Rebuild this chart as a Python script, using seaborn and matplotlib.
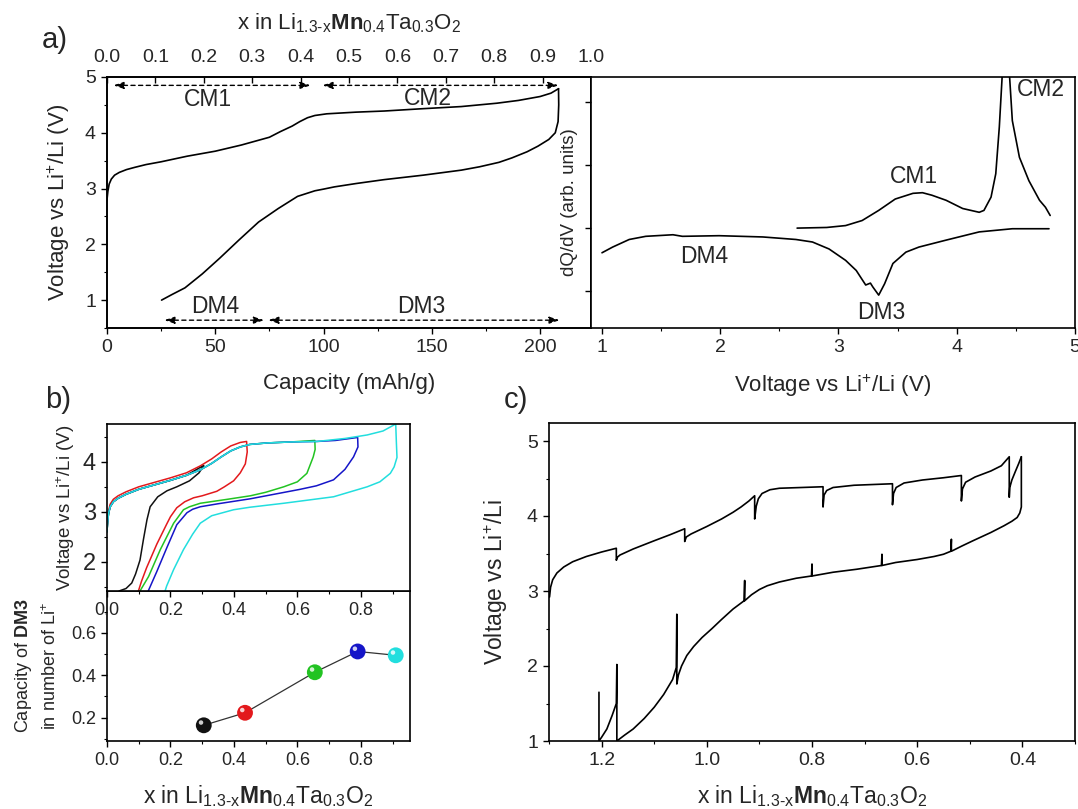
import numpy as np
import matplotlib
matplotlib.use("Agg")
import matplotlib.pyplot as plt
import seaborn as sns
from matplotlib.ticker import MultipleLocator, FormatStrFormatter, NullFormatter
from matplotlib.path import Path
from matplotlib.markers import MarkerStyle

# ---------------- data ----------------
# a) first cycle, capacity vs voltage
cap_charge = [0, 0.4, 1, 2, 3.5, 5.7, 9, 12.8, 18, 25, 37, 50, 62, 75, 80, 85.5, 89, 92.6, 96,
              101.5, 115, 128, 145, 163.6, 180, 190, 200, 205, 208.5]
v_charge = [2.8, 2.95, 3.08, 3.17, 3.24, 3.29, 3.34, 3.38, 3.43, 3.48, 3.58, 3.67, 3.78, 3.92,
            4.02, 4.12, 4.2, 4.27, 4.31, 4.34, 4.37, 4.39, 4.43, 4.47, 4.53, 4.58, 4.65, 4.71, 4.79]
cap_dis = [208.5, 208.6, 208.3, 207, 204, 199, 194, 187, 181, 172, 163.6, 146, 128, 115, 105,
           100, 96, 88, 79, 70, 61, 52, 44, 36, 30, 25.2]
v_dis = [4.79, 4.5, 4.2, 4.0, 3.88, 3.76, 3.66, 3.55, 3.47, 3.39, 3.33, 3.24, 3.16, 3.09, 3.03,
         2.99, 2.96, 2.86, 2.64, 2.4, 2.08, 1.75, 1.47, 1.22, 1.1, 1.0]

# a) dQ/dV
v_dqdv_ch = [2.65, 2.9, 3.06, 3.2, 3.34, 3.48, 3.63, 3.71, 3.79, 3.91, 4.05, 4.19, 4.23, 4.29,
             4.33, 4.36, 4.39, 4.415, 4.44, 4.47, 4.53, 4.61, 4.70, 4.75, 4.79]
dqdv_ch = [0.0, 0.01, 0.04, 0.12, 0.28, 0.46, 0.55, 0.56, 0.52, 0.44, 0.31, 0.25, 0.28, 0.49,
           0.86, 1.6, 2.6, 3.5, 2.6, 1.7, 1.12, 0.75, 0.44, 0.33, 0.2]
v_dqdv_dis = [1.0, 1.09, 1.23, 1.37, 1.6, 1.68, 1.99, 2.36, 2.64, 2.78, 2.92, 3.06, 3.15, 3.23,
              3.27, 3.29, 3.34, 3.39, 3.46, 3.57, 3.68, 3.91, 4.19, 4.47, 4.78]
dqdv_dis = [-0.39, -0.3, -0.18, -0.13, -0.105, -0.13, -0.12, -0.14, -0.18, -0.22, -0.33, -0.51,
            -0.67, -0.9, -0.87, -0.93, -1.06, -0.88, -0.56, -0.38, -0.3, -0.19, -0.06, -0.01, -0.01]

# b) cycles with increasing cut-off (x in Li, voltage)
blk_x = [0, 0.002, 0.005, 0.01, 0.02, 0.035, 0.06, 0.1, 0.15, 0.2, 0.25, 0.305,
         0.29, 0.26, 0.22, 0.189, 0.16, 0.136, 0.126, 0.115, 0.104, 0.09, 0.078, 0.06, 0.038]
blk_v = [2.6, 2.8, 2.97, 3.1, 3.2, 3.27, 3.35, 3.45, 3.54, 3.63, 3.73, 3.93,
         3.78, 3.62, 3.5, 3.42, 3.3, 3.1, 2.84, 2.45, 2.03, 1.75, 1.57, 1.46, 1.41]
red_x = [0, 0.002, 0.005, 0.01, 0.02, 0.035, 0.06, 0.1, 0.15, 0.2, 0.25, 0.294, 0.33, 0.36,
         0.39, 0.42, 0.44,
         0.442, 0.436, 0.42, 0.399, 0.37, 0.346, 0.3, 0.273, 0.245, 0.22, 0.2, 0.188, 0.157, 0.14,
         0.125, 0.109, 0.099]
red_v = [2.65, 2.85, 3.02, 3.15, 3.25, 3.32, 3.4, 3.5, 3.59, 3.68, 3.78, 3.92, 4.06, 4.2,
         4.32, 4.39, 4.41,
         4.2, 3.96, 3.78, 3.62, 3.5, 3.41, 3.32, 3.28, 3.2, 3.08, 2.9, 2.75, 2.35, 2.1,
         1.88, 1.61, 1.41]
grn_x = [0, 0.002, 0.005, 0.01, 0.02, 0.035, 0.06, 0.1, 0.15, 0.2, 0.25, 0.294, 0.33, 0.36,
         0.39, 0.42, 0.45, 0.504, 0.58, 0.655,
         0.656, 0.65, 0.63, 0.6, 0.557, 0.5, 0.452, 0.38, 0.294, 0.26, 0.241, 0.21, 0.168, 0.131,
         0.104]
grn_v = [2.6, 2.8, 2.97, 3.1, 3.2, 3.27, 3.35, 3.45, 3.54, 3.63, 3.73, 3.84, 3.97, 4.1,
         4.22, 4.3, 4.35, 4.38, 4.40, 4.43,
         4.25, 4.1, 3.77, 3.6, 3.5, 3.39, 3.32, 3.25, 3.17, 3.1, 3.04, 2.77, 2.24, 1.7,
         1.41]
blu_x = [0, 0.002, 0.005, 0.01, 0.02, 0.035, 0.06, 0.1, 0.15, 0.2, 0.25, 0.294, 0.33, 0.36,
         0.39, 0.42, 0.45, 0.504, 0.58, 0.662, 0.72, 0.79,
         0.791, 0.777, 0.75, 0.714, 0.66, 0.609, 0.452, 0.35, 0.294, 0.27, 0.252, 0.22, 0.188,
         0.157, 0.13]
blu_v = [2.6, 2.8, 2.97, 3.1, 3.2, 3.27, 3.35, 3.45, 3.54, 3.63, 3.73, 3.84, 3.97, 4.1,
         4.22, 4.3, 4.35, 4.38, 4.40, 4.41, 4.43, 4.49,
         4.3, 4.1, 3.85, 3.64, 3.52, 3.45, 3.26, 3.16, 3.1, 3.05, 2.98, 2.74, 2.27,
         1.8, 1.41]
cyn_x = [0, 0.002, 0.005, 0.01, 0.02, 0.035, 0.06, 0.1, 0.15, 0.2, 0.25, 0.294, 0.33, 0.36,
         0.39, 0.42, 0.45, 0.504, 0.58, 0.662, 0.75, 0.82, 0.87, 0.91,
         0.912, 0.914, 0.905, 0.893, 0.86, 0.82, 0.714, 0.557, 0.45, 0.399, 0.33, 0.294, 0.27,
         0.241, 0.21, 0.188, 0.183]
cyn_v = [2.6, 2.8, 2.97, 3.1, 3.2, 3.27, 3.35, 3.45, 3.54, 3.63, 3.73, 3.84, 3.97, 4.1,
         4.22, 4.3, 4.35, 4.38, 4.40, 4.41, 4.47, 4.54, 4.62, 4.76,
         4.4, 4.09, 3.9, 3.77, 3.6, 3.5, 3.3, 3.17, 3.09, 3.04, 2.92, 2.77, 2.55,
         2.24, 1.84, 1.51, 1.41]
cycle_colors = ["#111111", "#e3191c", "#22c322", "#1515c8", "#22dede"]

# b) DM3 capacity vs cut-off
cut_x = [0.305, 0.435, 0.655, 0.79, 0.91]
dm3_cap = [0.164, 0.223, 0.414, 0.512, 0.494]

# c) GITT curve
c_x_ch = [1.299, 1.297, 1.293, 1.285, 1.272, 1.255, 1.229, 1.2, 1.172,
          1.172, 1.170, 1.165, 1.14, 1.10, 1.07, 1.042,
          1.042, 1.039, 1.03, 1.0, 0.972, 0.95, 0.935, 0.92, 0.909,
          0.909, 0.906, 0.902, 0.895, 0.88, 0.862, 0.82, 0.779,
          0.779, 0.777, 0.772, 0.76, 0.72, 0.647,
          0.647, 0.645, 0.64, 0.625, 0.59, 0.55, 0.516,
          0.516, 0.514, 0.508, 0.49, 0.46, 0.44, 0.425,
          0.425, 0.424, 0.42, 0.413, 0.407, 0.402]
c_v_ch = [2.92, 3.05, 3.15, 3.24, 3.32, 3.39, 3.46, 3.52, 3.57,
          3.41, 3.45, 3.48, 3.56, 3.67, 3.75, 3.83,
          3.66, 3.72, 3.76, 3.86, 3.96, 4.05, 4.12, 4.2, 4.27,
          3.96, 4.13, 4.23, 4.3, 4.35, 4.37, 4.38, 4.39,
          4.12, 4.28, 4.34, 4.38, 4.41, 4.43,
          4.15, 4.3, 4.38, 4.44, 4.48, 4.51, 4.54,
          4.2, 4.36, 4.45, 4.52, 4.6, 4.67, 4.79,
          4.25, 4.38, 4.48, 4.6, 4.7, 4.79]
c_x_dis = [0.402, 0.402, 0.405, 0.41, 0.42, 0.435, 0.46, 0.494, 0.515, 0.535,
           0.535, 0.536, 0.55, 0.568, 0.6, 0.641, 0.667,
           0.667, 0.668, 0.715, 0.76, 0.80,
           0.80, 0.801, 0.83, 0.862, 0.885, 0.9, 0.915, 0.928,
           0.928, 0.929, 0.95, 0.972, 0.99, 1.009, 1.025, 1.038, 1.048, 1.054, 1.057,
           1.057, 1.058, 1.065, 1.082, 1.1, 1.119, 1.14, 1.156, 1.171,
           1.171, 1.172, 1.18, 1.19, 1.2, 1.205, 1.205]
c_v_dis = [4.79, 4.12, 4.04, 3.98, 3.93, 3.87, 3.78, 3.67, 3.6, 3.53,
           3.69, 3.53, 3.49, 3.46, 3.42, 3.38, 3.34,
           3.49, 3.34, 3.29, 3.25, 3.2,
           3.36, 3.2, 3.17, 3.12, 3.07, 3.02, 2.95, 2.87,
           3.14, 2.87, 2.76, 2.62, 2.5, 2.38, 2.26, 2.14, 2.0, 1.88, 1.76,
           2.69, 1.98, 1.82, 1.62, 1.45, 1.3, 1.16, 1.08, 1.0,
           2.02, 1.5, 1.34, 1.16, 1.05, 1.0, 1.65]

# ---------------- style ----------------
sns.set_theme(style="ticks")
plt.rcParams['font.family'] = ['Liberation Sans', 'DejaVu Sans']
plt.rcParams['mathtext.fontset'] = 'custom'
plt.rcParams['mathtext.rm'] = 'Liberation Sans'
plt.rcParams['mathtext.it'] = 'Liberation Sans:italic'
plt.rcParams['mathtext.bf'] = 'Liberation Sans:bold'
plt.rcParams['axes.linewidth'] = 1.2
plt.rcParams['axes.edgecolor'] = 'black'

formula = r"x in Li$_{\text{1.3-x}}$$\mathbf{Mn}$$_{0.4}$Ta$_{0.3}$O$_{2}$"
vlab = r"Voltage vs Li$^{+}$/Li (V)"
LW = 1.2


def style_ticks(ax, size=14):
    ax.tick_params(which="both", direction="out", color="black", labelsize=size,
                   top=False, right=False)
    ax.tick_params(which="major", length=4.5, width=1.0)
    ax.tick_params(which="minor", length=2.5, width=0.8)
    for s in ax.spines.values():
        s.set_visible(True)
        s.set_color("black")


def dashed_arrow(ax, x0, x1, y):
    ax.annotate("", xy=(x1, y), xytext=(x0, y),
                arrowprops=dict(arrowstyle="<|-|>,head_length=0.5,head_width=0.17",
                                color="black", lw=1.0, linestyle=(0, (3, 2.5)),
                                shrinkA=0, shrinkB=0))


fig = plt.figure(figsize=(10.78, 8.09), dpi=100)
W, H = 1078, 809


def box(x0, y0, x1, y1):
    return [x0 / W, 1 - y1 / H, (x1 - x0) / W, (y1 - y0) / H]


# ---------------- a) left ----------------
ax_al = fig.add_axes(box(107, 77, 591, 328))
sns.lineplot(x=cap_charge, y=v_charge, sort=False, estimator=None, color="black", lw=LW, ax=ax_al)
sns.lineplot(x=cap_dis, y=v_dis, sort=False, estimator=None, color="black", lw=LW, ax=ax_al)
ax_al.set_xlim(0, 223.5)
ax_al.set_ylim(0.5, 5)
ax_al.xaxis.set_major_locator(MultipleLocator(50))
ax_al.xaxis.set_minor_locator(MultipleLocator(25))
ax_al.yaxis.set_major_locator(MultipleLocator(1))
ax_al.yaxis.set_minor_locator(MultipleLocator(0.5))
style_ticks(ax_al)
ax_al.set_xlabel("Capacity (mAh/g)", fontsize=16, labelpad=12)
ax_al.set_ylabel(vlab, fontsize=16, labelpad=9)
dashed_arrow(ax_al, 3, 94, 4.85)
dashed_arrow(ax_al, 99.5, 208.5, 4.85)
dashed_arrow(ax_al, 26.5, 72.5, 0.64)
dashed_arrow(ax_al, 74.5, 209, 0.64)
ax_al.text(46.5, 4.6, "CM1", ha="center", va="center", fontsize=16.5)
ax_al.text(148, 4.62, "CM2", ha="center", va="center", fontsize=16.5)
ax_al.text(50, 0.88, "DM4", ha="center", va="center", fontsize=16.5)
ax_al.text(145, 0.88, "DM3", ha="center", va="center", fontsize=16.5)

ax_top = ax_al.twiny()
ax_top.set_xlim(0, 1)
ax_top.xaxis.set_major_locator(MultipleLocator(0.1))
ax_top.xaxis.set_major_formatter(FormatStrFormatter("%.1f"))
ax_top.tick_params(axis="x", which="major", direction="in", length=4, width=1.0,
                   labelsize=14, pad=8, color="black")
ax_top.set_xlabel(formula, fontsize=16, labelpad=14)

# ---------------- a) right ----------------
ax_ar = fig.add_axes(box(591, 77, 1075, 328))
sns.lineplot(x=v_dqdv_ch, y=dqdv_ch, sort=False, estimator=None, color="black", lw=LW, ax=ax_ar)
sns.lineplot(x=v_dqdv_dis, y=dqdv_dis, sort=False, estimator=None, color="black", lw=LW, ax=ax_ar)
ax_ar.set_xlim(0.907, 5)
ax_ar.set_ylim(-1.58, 2.39)
ax_ar.xaxis.set_major_locator(MultipleLocator(1))
ax_ar.xaxis.set_minor_locator(MultipleLocator(0.5))
ax_ar.set_yticks([-1, 0, 1, 2])
ax_ar.yaxis.set_major_formatter(NullFormatter())
style_ticks(ax_ar)
ax_ar.set_xlabel(vlab, fontsize=16, labelpad=12)
ax_ar.text(3.64, 0.82, "CM1", ha="center", va="center", fontsize=16.5)
ax_ar.text(4.71, 2.2, "CM2", ha="center", va="center", fontsize=16.5)
ax_ar.text(1.86, -0.45, "DM4", ha="center", va="center", fontsize=16.5)
ax_ar.text(3.36, -1.33, "DM3", ha="center", va="center", fontsize=16.5)
fig.text(569 / W, 1 - 202 / H, "dQ/dV (arb. units)", rotation=90, ha="center", va="center",
         fontsize=13.5)

# ---------------- b) bottom (drawn first so the upper panel's labels stay visible) ----------------
ax_bb = fig.add_axes(box(107, 591, 410, 741))
ax_bb.patch.set_visible(False)
sns.lineplot(x=cut_x, y=dm3_cap, sort=False, estimator=None, color="#333333", lw=0.9, ax=ax_bb)
ax_bb.scatter(cut_x, dm3_cap, s=130, c=cycle_colors, edgecolors="none", zorder=3)
theta = np.linspace(0, 2 * np.pi, 40)
hl = MarkerStyle(Path(np.column_stack([-0.55 + 0.45 * np.cos(theta), 0.55 + 0.45 * np.sin(theta)])))
ax_bb.scatter(cut_x, dm3_cap, s=130 * 0.4, marker=hl, c="white", alpha=0.8, edgecolors="none",
              zorder=4)
ax_bb.set_xlim(0, 0.955)
ax_bb.set_ylim(0.09, 0.797)
ax_bb.set_yticks([0.2, 0.4, 0.6])
ax_bb.yaxis.set_minor_locator(MultipleLocator(0.1))
ax_bb.yaxis.set_major_formatter(FormatStrFormatter("%.1f"))
ax_bb.xaxis.set_major_locator(MultipleLocator(0.2))
ax_bb.xaxis.set_minor_locator(MultipleLocator(0.1))
ax_bb.xaxis.set_major_formatter(FormatStrFormatter("%.1f"))
style_ticks(ax_bb, 13)
ax_bb.set_xlabel(formula, fontsize=16.5, labelpad=10)
ax_bb.set_ylabel("Capacity of $\\mathbf{DM3}$\nin number of Li$^{+}$", fontsize=13, labelpad=8,
                 linespacing=1.5)

# ---------------- b) top ----------------
ax_bt = fig.add_axes(box(107, 424, 410, 591))
for xs, vs, col in zip([blk_x, red_x, grn_x, blu_x, cyn_x], [blk_v, red_v, grn_v, blu_v, cyn_v],
                       cycle_colors):
    sns.lineplot(x=xs, y=vs, sort=False, estimator=None, color=col, lw=1.1, ax=ax_bt)
ax_bt.set_xlim(0, 0.955)
ax_bt.set_ylim(1.41, 4.76)
ax_bt.xaxis.set_major_locator(MultipleLocator(0.2))
ax_bt.xaxis.set_minor_locator(MultipleLocator(0.1))
ax_bt.xaxis.set_major_formatter(FormatStrFormatter("%.1f"))
ax_bt.yaxis.set_major_locator(MultipleLocator(1))
ax_bt.yaxis.set_minor_locator(MultipleLocator(0.5))
style_ticks(ax_bt, 13)
ax_bt.tick_params(axis="y", labelsize=17)
ax_bt.set_ylabel(vlab, fontsize=13.5, labelpad=4)

# ---------------- c) ----------------
ax_c = fig.add_axes(box(549, 423, 1075, 741))
sns.lineplot(x=c_x_ch, y=c_v_ch, sort=False, estimator=None, color="black", lw=LW, ax=ax_c)
sns.lineplot(x=c_x_dis, y=c_v_dis, sort=False, estimator=None, color="black", lw=LW, ax=ax_c)
ax_c.set_xlim(1.30, 0.30)
ax_c.set_ylim(1, 5.24)
ax_c.set_xticks([1.2, 1.0, 0.8, 0.6, 0.4])
ax_c.xaxis.set_minor_locator(MultipleLocator(0.1))
ax_c.xaxis.set_major_formatter(FormatStrFormatter("%.1f"))
ax_c.yaxis.set_major_locator(MultipleLocator(1))
ax_c.yaxis.set_minor_locator(MultipleLocator(0.5))
style_ticks(ax_c, 14)
ax_c.set_xlabel(formula, fontsize=16.5, labelpad=10)
ax_c.set_ylabel("Voltage vs Li$^{+}$/Li", fontsize=16.5, labelpad=12)

# panel letters
fig.text(55 / W, 1 - 40 / H, "a)", fontsize=21, ha="center", va="center")
fig.text(58 / W, 1 - 400 / H, "b)", fontsize=21, ha="center", va="center")
fig.text(516 / W, 1 - 400 / H, "c)", fontsize=21, ha="center", va="center")

fig.savefig("out.png", dpi=100)
